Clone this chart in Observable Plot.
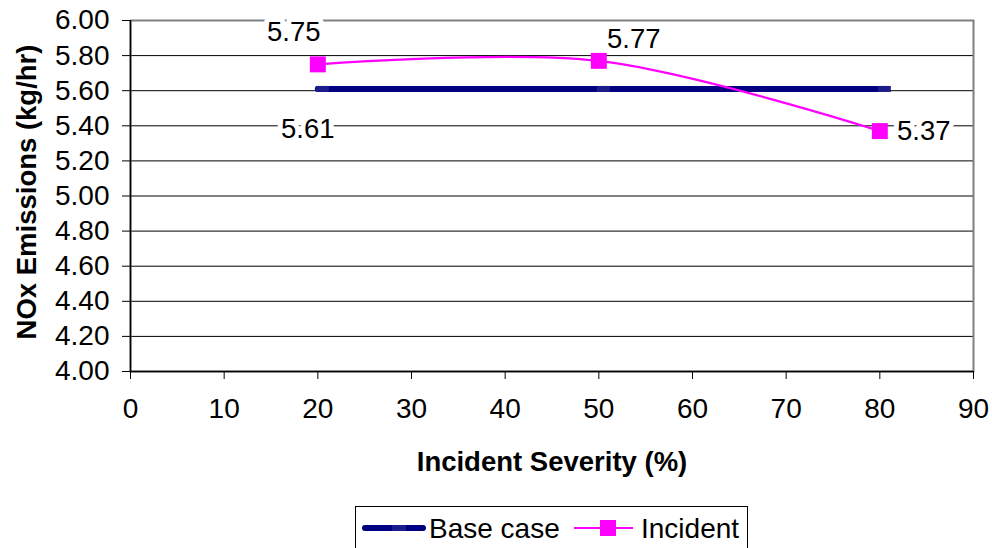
<!DOCTYPE html>
<html>
<head>
<meta charset="utf-8">
<script src="https://cdn.jsdelivr.net/npm/d3@7"></script>
<script src="https://cdn.jsdelivr.net/npm/@observablehq/plot@0.6"></script>
<style>
  html, body { margin: 0; padding: 0; background: #fff; }
  #wrap { position: relative; width: 992px; height: 548px; overflow: hidden; font-family: "Liberation Sans", Arial, sans-serif; }
  #legend { position: absolute; left: 355px; top: 506px; width: 393px; height: 60px; border: 1px solid #000; background: #fff; box-sizing: border-box; }
  #legend svg { display: block; }
</style>
</head>
<body>
<div id="wrap"></div>
<script>
const severity = [20, 50, 80];
const baseCase = [5.61, 5.61, 5.61];
const incident = [5.75, 5.77, 5.37];
const xTicks = [0, 10, 20, 30, 40, 50, 60, 70, 80, 90];
const yTicks = [4.0, 4.2, 4.4, 4.6, 4.8, 5.0, 5.2, 5.4, 5.6, 5.8, 6.0];
const seriesNames = ["Base case", "Incident"];
const xTitle = "Incident Severity (%)";
const yTitle = "NOx Emissions (kg/hr)";

const baseData = severity.map((x, i) => ({x, y: baseCase[i]}));
const incData = severity.map((x, i) => ({x, y: incident[i]}));

const NAVY = "#000080";
const MAGENTA = "#FF00FF";
const FONT = "'Liberation Sans', Arial, sans-serif";

// Excel-like dash marker (offset slightly to the right)
const dashSymbol = {
  draw(ctx, size) {
    ctx.moveTo(-2, -3); ctx.lineTo(11, -3); ctx.lineTo(11, 3); ctx.lineTo(-2, 3); ctx.closePath();
  }
};

const labelStyle = {fill: "black", stroke: "white", strokeWidth: 10, fontSize: 27.5, textAnchor: "middle", lineAnchor: "middle", fontFamily: FONT};

const chart = Plot.plot({
  width: 992,
  height: 548,
  marginLeft: 130,
  marginRight: 19,
  marginTop: 20,
  marginBottom: 177,
  style: {fontFamily: FONT, background: "white", color: "black"},
  x: {domain: [0, 90]},
  y: {domain: [4, 6]},
  marks: [
    Plot.gridY(yTicks, {stroke: "black", strokeOpacity: 1, strokeWidth: 1}),
    Plot.frame({stroke: "#808080", strokeWidth: 2}),
    Plot.ruleX([0], {stroke: "black", strokeWidth: 1.5}),
    Plot.ruleY([4], {stroke: "black", strokeWidth: 1.5}),
    Plot.axisY({ticks: yTicks, tickFormat: d3.format(".2f"), tickSize: 8, tickPadding: 13, fontSize: 28, label: null, stroke: "black"}),
    Plot.axisX({ticks: xTicks, tickSize: 8, tickPadding: 19, fontSize: 28, label: null, stroke: "black"}),
    Plot.text([xTitle], {frameAnchor: "bottom", textAnchor: "middle", lineAnchor: "middle", dy: 91, fontSize: 27.5, fontWeight: "bold", fontFamily: FONT}),
    Plot.text([yTitle], {frameAnchor: "left", textAnchor: "middle", lineAnchor: "middle", rotate: -90, dx: -103, dy: -4, fontSize: 27.5, fontWeight: "bold", fontFamily: FONT}),
    // labels (with white box-like halo)
    Plot.text(incData.slice(0, 1), {x: "x", y: "y", text: d => d.y.toFixed(2), dx: -24, dy: -32, ...labelStyle}),
    Plot.text(incData.slice(1, 2), {x: "x", y: "y", text: d => d.y.toFixed(2), dx: 35, dy: -22, ...labelStyle}),
    Plot.text(incData.slice(2, 3), {x: "x", y: "y", text: d => d.y.toFixed(2), dx: 44, dy: 0, ...labelStyle}),
    Plot.text(baseData.slice(0, 1), {x: "x", y: "y", text: d => d.y.toFixed(2), dx: -10, dy: 40, ...labelStyle}),
    // base case
    Plot.line(baseData, {x: "x", y: "y", stroke: NAVY, strokeWidth: 6, strokeLinecap: "round"}),
    Plot.dot(baseData, {x: "x", y: "y", symbol: dashSymbol, r: 5, fill: "#1c1c8a", stroke: "none"}),
    // incident
    Plot.line(incData, {x: "x", y: "y", stroke: MAGENTA, strokeWidth: 2.2, curve: "catmull-rom"}),
    Plot.dot(incData, {x: "x", y: "y", symbol: "square", r: 9, fill: MAGENTA, stroke: "none"})
  ]
});

const wrap = document.getElementById("wrap");
chart.style.position = "absolute";
chart.style.left = "0";
chart.style.top = "0";
wrap.appendChild(chart);

// Legend
const legend = document.createElement("div");
legend.id = "legend";
const lsvg = d3.create("svg").attr("width", 393).attr("height", 60);
lsvg.append("line").attr("x1", 9).attr("x2", 67).attr("y1", 21).attr("y2", 21).attr("stroke", NAVY).attr("stroke-width", 6).attr("stroke-linecap", "round");
lsvg.append("rect").attr("x", 36).attr("y", 18).attr("width", 14).attr("height", 6).attr("fill", "#1c1c8a");
lsvg.append("text").attr("x", 73).attr("y", 21).attr("dy", "0.35em").attr("font-size", 28).attr("font-family", FONT).text(seriesNames[0]);
lsvg.append("line").attr("x1", 218).attr("x2", 277).attr("y1", 21).attr("y2", 21).attr("stroke", MAGENTA).attr("stroke-width", 2.2);
lsvg.append("rect").attr("x", 244).attr("y", 13).attr("width", 16).attr("height", 16).attr("fill", MAGENTA);
lsvg.append("text").attr("x", 285).attr("y", 21).attr("dy", "0.35em").attr("font-size", 28).attr("font-family", FONT).text(seriesNames[1]);
legend.appendChild(lsvg.node());
wrap.appendChild(legend);
</script>
</body>
</html>
